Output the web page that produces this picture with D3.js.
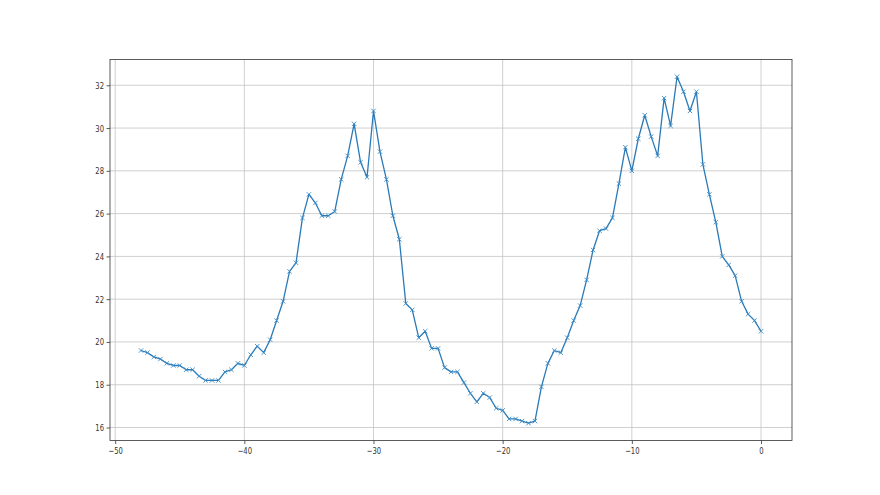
<!DOCTYPE html>
<html><head><meta charset="utf-8">
<script src="https://cdn.jsdelivr.net/npm/d3@7"></script>
<style>body{margin:0;background:#fff}svg{display:block}</style>
</head><body>
<svg id="c" width="880" height="495"></svg>
<script>
const xStart = -48, xStep = 0.5;
const values = [
 19.6,19.5,19.3,19.2,19.0,18.9,18.9,18.7,18.7,18.4,18.2,18.2,18.2,18.6,18.7,19.0,18.9,19.4,19.8,19.5,20.1,21.0,21.9,
 23.3,23.7,25.8,26.9,26.5,25.9,25.9,26.1,27.6,28.7,30.2,28.4,27.7,30.8,28.9,27.6,25.9,24.8,21.8,21.5,20.2,20.5,19.7,19.7,
 18.8,18.6,18.6,18.1,17.6,17.2,17.6,17.4,16.9,16.8,16.4,16.4,16.3,16.2,16.3,17.9,19.0,19.6,19.5,
 20.2,21.0,21.7,22.9,24.3,25.2,25.3,25.8,27.4,29.1,28.0,29.5,30.6,
 29.6,28.7,31.4,30.1,32.4,31.7,30.8,31.7,28.3,26.9,25.6,24.0,23.6,23.1,21.9,21.3,21.0,20.5
];
const xs = values.map((v,i)=> xStart + i*xStep);
const xTicks = [-50,-40,-30,-20,-10,0];
const yTicks = [16,18,20,22,24,26,28,30,32];

const L=110,R=792,T=59.4,B=440.55;
const svg=d3.select("#c");
const xmin=d3.min(xs), xmax=d3.max(xs), ymin=d3.min(values), ymax=d3.max(values);
const xm=(xmax-xmin)*0.05, ym=(ymax-ymin)*0.05;
const x=d3.scaleLinear().domain([xmin-xm,xmax+xm]).range([L,R]);
const y=d3.scaleLinear().domain([ymin-ym,ymax+ym]).range([B,T]);

const g=svg.append("g");
g.selectAll(".gx").data(xTicks).enter().append("line")
 .attr("x1",d=>x(d)).attr("x2",d=>x(d)).attr("y1",T).attr("y2",B)
 .attr("stroke","#c4c4c4").attr("stroke-width",0.8);
g.selectAll(".gy").data(yTicks).enter().append("line")
 .attr("y1",d=>y(d)).attr("y2",d=>y(d)).attr("x1",L).attr("x2",R)
 .attr("stroke","#c4c4c4").attr("stroke-width",0.8);

const fmt=d=>d<0?"\u2212"+Math.abs(d):String(d);
const xa=svg.append("g").attr("transform",`translate(0,${B})`)
 .call(d3.axisBottom(x).tickValues(xTicks).tickFormat(fmt).tickSizeOuter(0).tickSize(3.5).tickPadding(3.5));
const ya=svg.append("g").attr("transform",`translate(${L},0)`)
 .call(d3.axisLeft(y).tickValues(yTicks).tickFormat(fmt).tickSizeOuter(0).tickSize(3.5).tickPadding(3.5));
[xa,ya].forEach(a=>{
 a.select(".domain").remove();
 a.selectAll(".tick line").attr("stroke","#333").attr("stroke-width",0.8);
 a.selectAll("text").attr("font-family","DejaVu Sans").attr("font-size",9.5).attr("fill","#333");
});
xa.selectAll("text").attr("transform","scale(0.72,1)");
ya.selectAll("text").attr("x",-6/0.72).attr("transform","scale(0.72,1)");

svg.append("rect").attr("x",L).attr("y",T).attr("width",R-L).attr("height",B-T)
 .attr("fill","none").attr("stroke","#333").attr("stroke-width",0.8);

const pts=xs.map((d,i)=>[d,values[i]]);
svg.append("path").datum(pts)
 .attr("d",d3.line().x(d=>x(d[0])).y(d=>y(d[1])))
 .attr("fill","none").attr("stroke","#2a7ab8").attr("stroke-width",1.3).attr("stroke-linejoin","round");
const s=2.2;
svg.append("g").selectAll("path").data(pts).enter().append("path")
 .attr("d",d=>{const cx=x(d[0]),cy=y(d[1]);return `M${cx-s},${cy-s}L${cx+s},${cy+s}M${cx-s},${cy+s}L${cx+s},${cy-s}`;})
 .attr("stroke","#3a8ac4").attr("stroke-width",0.9);
</script>
</body></html>
